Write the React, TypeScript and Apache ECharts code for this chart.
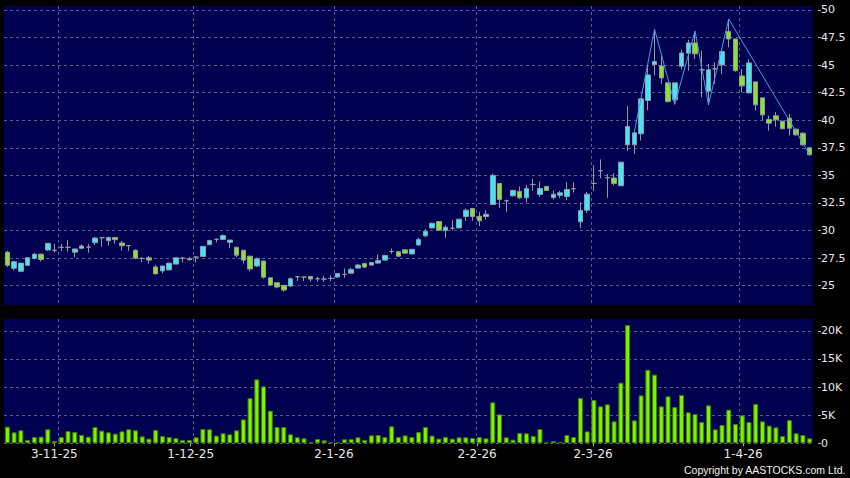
import React, { useEffect, useRef } from "react";
import * as echarts from "echarts";

// Trading days shown (d-m-yy)
const DATES: string[] = [
  "22-10-25", "23-10-25", "24-10-25", "27-10-25", "28-10-25", "30-10-25", "31-10-25",
  "3-11-25", "4-11-25", "5-11-25", "6-11-25", "7-11-25", "10-11-25", "11-11-25", "12-11-25", "13-11-25", "14-11-25",
  "17-11-25", "18-11-25", "19-11-25", "20-11-25", "21-11-25", "24-11-25", "25-11-25", "26-11-25", "27-11-25", "28-11-25",
  "1-12-25", "2-12-25", "3-12-25", "4-12-25", "5-12-25", "8-12-25", "9-12-25", "10-12-25", "11-12-25", "12-12-25",
  "15-12-25", "16-12-25", "17-12-25", "18-12-25", "19-12-25", "22-12-25", "23-12-25", "24-12-25", "29-12-25", "30-12-25", "31-12-25",
  "2-1-26", "5-1-26", "6-1-26", "7-1-26", "8-1-26", "9-1-26", "12-1-26", "13-1-26", "14-1-26", "15-1-26", "16-1-26",
  "19-1-26", "20-1-26", "21-1-26", "22-1-26", "23-1-26", "26-1-26", "27-1-26", "28-1-26", "29-1-26", "30-1-26",
  "2-2-26", "3-2-26", "4-2-26", "5-2-26", "6-2-26", "9-2-26", "10-2-26", "11-2-26", "12-2-26", "13-2-26",
  "16-2-26", "20-2-26", "23-2-26", "24-2-26", "25-2-26", "26-2-26", "27-2-26",
  "2-3-26", "3-3-26", "4-3-26", "5-3-26", "6-3-26", "9-3-26", "10-3-26", "11-3-26", "12-3-26", "13-3-26",
  "16-3-26", "17-3-26", "18-3-26", "19-3-26", "20-3-26", "23-3-26", "24-3-26", "25-3-26", "26-3-26", "27-3-26", "30-3-26", "31-3-26",
  "1-4-26", "2-4-26", "8-4-26", "9-4-26", "10-4-26", "13-4-26", "14-4-26", "15-4-26", "16-4-26", "17-4-26", "20-4-26", "21-4-26",
];

const OPEN: number[] = [
  28.04, 26.58, 26.31, 26.85, 27.47, 27.86, 28.24, 28.22, 28.48, 28.48,
  28.04, 28.39, 28.5, 28.9, 29.35, 29.08, 29.38, 28.87, 28.63, 28.21,
  27.47, 27.53, 26.7, 26.34, 26.43, 26.96, 27.5, 27.45, 27.6, 27.65,
  28.72, 29.2, 29.2, 28.93, 28.48, 28.21, 27.68, 26.79, 27.23, 25.71,
  25.27, 25.03, 24.97, 25.81, 25.78, 25.84, 25.63, 25.6, 25.66, 25.78,
  26.02, 26.14, 26.6, 27.02, 26.87, 27.05, 27.32, 28.1, 28.07, 28.25,
  27.88, 28.7, 29.52, 30.24, 30.82, 30.0, 30.21, 30.24, 31.27, 32.0,
  31.3, 31.27, 32.36, 34.27, 32.7, 33.15, 33.55, 32.97, 34.18, 33.27,
  34.0, 33.0, 33.2, 33.09, 33.79, 30.79, 31.85, 34.27, 35.42, 34.79,
  34.76, 34.06, 37.77, 37.77, 38.77, 41.79, 45.05, 44.93, 43.39, 41.85,
  44.9, 46.08, 47.01, 44.57, 42.63, 44.66, 45.02, 48.04, 47.37, 44.02,
  42.48, 43.48, 42.03, 40.07, 40.4, 39.92, 40.19, 39.19, 38.83, 37.5,
];
const CLOSE: number[] = [
  26.85, 27.17, 27.05, 27.53, 27.86, 27.38, 28.84, 28.2, 28.48, 28.48,
  28.33, 28.6, 28.5, 29.32, 29.35, 29.38, 29.17, 28.63, 28.63, 27.5,
  27.47, 27.32, 26.07, 26.79, 27.05, 27.53, 27.5, 27.35, 27.6, 28.57,
  29.1, 29.2, 29.55, 29.14, 27.77, 27.32, 26.52, 27.44, 25.77, 25.06,
  24.88, 24.61, 25.63, 25.81, 25.78, 25.6, 25.63, 25.6, 25.66, 26.11,
  26.02, 26.48, 26.87, 26.69, 27.11, 27.29, 27.74, 28.1, 27.68, 27.95,
  28.3, 29.18, 29.94, 30.67, 30.03, 30.3, 30.21, 31.03, 31.85, 31.27,
  30.88, 31.48, 35.0, 32.82, 32.7, 33.64, 32.97, 33.82, 34.18, 33.82,
  33.64, 33.3, 33.42, 33.73, 33.79, 31.82, 33.3, 34.27, 35.42, 34.79,
  34.27, 36.2, 39.43, 38.86, 41.94, 44.11, 45.32, 43.84, 41.7, 43.39,
  46.1, 47.01, 46.02, 44.57, 44.57, 44.66, 46.23, 47.37, 44.5, 43.12,
  45.2, 41.4, 40.49, 39.74, 40.04, 39.22, 39.28, 38.68, 37.77, 36.87,
];
const LOW: number[] = [
  26.7, 26.37, 26.22, 26.8, 27.38, 27.2, 28.15, 28.0, 28.15, 28.1,
  27.59, 28.3, 28.0, 28.69, 28.54, 28.63, 28.81, 28.18, 28.15, 27.4,
  27.14, 27.0, 26.07, 26.13, 26.43, 26.96, 27.11, 27.3, 27.1, 27.65,
  28.66, 28.93, 29.15, 28.39, 27.6, 27.02, 26.31, 26.7, 25.65, 25.0,
  24.76, 24.46, 24.9, 25.42, 25.42, 25.36, 25.36, 25.35, 25.42, 25.75,
  25.72, 26.1, 26.55, 26.6, 26.8, 27.0, 27.3, 27.89, 27.6, 27.9,
  27.85, 28.6, 29.4, 30.2, 29.95, 29.36, 30.03, 30.2, 30.88, 30.88,
  30.4, 31.0, 32.36, 32.06, 31.7, 33.1, 32.85, 32.55, 33.61, 33.03,
  33.6, 32.82, 32.95, 32.76, 33.45, 30.24, 31.6, 33.58, 34.73, 32.97,
  34.1, 34.06, 37.2, 36.96, 38.17, 40.9, 44.05, 43.3, 41.6, 41.43,
  44.6, 44.5, 45.55, 42.09, 41.4, 43.3, 44.2, 46.62, 44.4, 42.55,
  42.48, 40.9, 39.98, 39.07, 39.42, 39.22, 38.62, 38.6, 37.7, 36.8,
];
const HIGH: number[] = [
  28.15, 27.26, 27.05, 27.6, 27.98, 27.9, 28.84, 28.78, 28.78, 29.14,
  28.33, 28.75, 28.78, 29.43, 29.43, 29.38, 29.4, 29.05, 28.63, 28.3,
  27.59, 27.7, 26.88, 26.79, 27.05, 27.53, 27.59, 27.6, 27.65, 28.57,
  29.16, 29.29, 29.64, 29.14, 28.55, 28.21, 27.68, 27.56, 27.27, 25.75,
  25.3, 25.05, 25.73, 25.81, 25.8, 25.84, 25.81, 25.87, 25.93, 26.11,
  26.57, 26.63, 26.99, 27.05, 27.15, 27.83, 27.8, 28.37, 28.1, 28.3,
  28.3, 29.36, 30.12, 30.7, 30.85, 30.48, 30.94, 31.03, 32.0, 32.0,
  31.7, 31.85, 35.18, 34.27, 32.8, 33.7, 34.0, 34.15, 34.67, 34.45,
  34.05, 33.64, 33.6, 34.39, 34.36, 32.58, 33.5, 35.94, 36.45, 35.12,
  35.2, 36.2, 41.3, 38.9, 41.94, 45.0, 48.19, 45.86, 43.39, 43.39,
  46.4, 47.3, 47.9, 46.32, 45.1, 45.26, 46.5, 49.12, 47.37, 44.65,
  45.55, 43.48, 42.03, 40.43, 40.74, 39.95, 40.58, 39.25, 38.9, 37.55,
];
const VOLUME: number[] = [
  2960, 1950, 2310, 590, 1120, 1180, 2490, 410, 1120, 2190,
  2010, 1480, 1180, 2900, 2250, 1950, 1720, 2130, 2490, 2310,
  1240, 830, 2370, 1300, 1120, 950, 590, 590, 1070, 2550,
  2490, 1360, 1780, 1600, 2310, 4260, 8050, 11370, 10120, 5800,
  2900, 2900, 1600, 1070, 890, 180, 770, 530, 180, 180,
  710, 770, 1070, 590, 1420, 1480, 1120, 3020, 1120, 1420,
  1120, 2010, 2900, 1360, 830, 1120, 830, 1070, 1070, 950,
  1120, 890, 7280, 5150, 1070, 650, 1840, 1780, 1300, 2550,
  180, 410, 240, 1480, 1120, 8050, 2130, 7700, 6570, 6930,
  3910, 10770, 21020, 4080, 8520, 13080, 12200, 6570, 8350, 6450,
  8580, 5510, 5210, 3790, 6750, 2490, 3260, 5980, 3430, 4970,
  3790, 6990, 3910, 3140, 2840, 1300, 4140, 1780, 1480, 890,
];

// first trading day of each month: labelled on the axis
const MONTH_LABELS = ["3-11-25", "1-12-25", "2-1-26", "2-2-26", "2-3-26", "1-4-26"];
const PRICE_TICKS = [25, 27.5, 30, 32.5, 35, 37.5, 40, 42.5, 45, 47.5, 50];
const VOLUME_TICKS = [0, 5000, 10000, 15000, 20000];

// zig-zag pattern line
const PATTERN_DATES = ["11-3-26", "16-3-26", "19-3-26", "24-3-26", "26-3-26", "31-3-26", "21-4-26"];
const PATTERN_VALUES = [38.95, 48.25, 41.45, 48.1, 41.4, 49.18, 36.9];

const COPYRIGHT = "Copyright by AASTOCKS.com Ltd.";

const PANEL_BG = "#000050";
const GRID_LINE = "#5a5a8e";
const UP_FILL = "#3fe6fb";
const DOWN_FILL = "#84e62c";
const CANDLE_EDGE = "#9a9a9a";
const VOL_FILL = "#7cf400";
const VOL_EDGE = "#3f7d00";
const TEXT = "#e8e8e8";
const FONT = "DejaVu Sans";

export default function App() {
  const ref = useRef<HTMLDivElement>(null);

  useEffect(() => {
    document.body.style.margin = "0";
    document.body.style.background = "#000";
    const chart = echarts.init(ref.current!, undefined, { renderer: "svg" });

    const isMonthLabel = (v: string) => MONTH_LABELS.includes(v);

    const candleData = DATES.map((_, i) => [OPEN[i], CLOSE[i], LOW[i], HIGH[i]]);
    const patternData = PATTERN_DATES.map((d, k) => [d, PATTERN_VALUES[k]]);
    const monthStartData = MONTH_LABELS.map((d) => [d, 0]);

    // dashed vertical line at the right edge of each month's first trading day
    const monthLineSeries = (axisIndex: number) => ({
      type: "custom",
      xAxisIndex: axisIndex,
      yAxisIndex: axisIndex,
      data: monthStartData,
      z: 1,
      silent: true,
      renderItem: (params: any, api: any) => {
        const cs = params.coordSys;
        const center = api.coord([api.value(0), api.value(1)])[0];
        const band = api.size([1, 0])[0];
        const x = Math.round(center + band / 2) + 0.5;
        return {
          type: "line",
          shape: { x1: x, y1: cs.y, x2: x, y2: cs.y + cs.height },
          style: { stroke: GRID_LINE, lineWidth: 1, lineDash: [3, 3] },
        };
      },
    });

    const hiddenCatAxis = (gridIndex: number) => ({
      type: "category",
      gridIndex,
      data: DATES,
      boundaryGap: true,
      axisLine: { show: false },
      axisTick: { show: false },
      axisLabel: { show: false },
      splitLine: { show: false },
    });

    const option: any = {
      animation: false,
      backgroundColor: "#000",
      grid: [
        { left: 4, width: 809, top: 6, height: 299, show: true, backgroundColor: PANEL_BG, borderWidth: 0, outerBoundsMode: "none", containLabel: false },
        { left: 4, width: 809, top: 319, height: 124.3, show: true, backgroundColor: PANEL_BG, borderWidth: 0, outerBoundsMode: "none", containLabel: false },
        { left: 3.15, width: 818.4, top: 319, height: 124.3, show: false, outerBoundsMode: "none", containLabel: false },
      ],
      xAxis: [
        hiddenCatAxis(0),
        hiddenCatAxis(1),
        {
          type: "category",
          gridIndex: 2,
          data: DATES,
          boundaryGap: true,
          offset: 3,
          axisLine: { show: false },
          axisTick: {
            show: true,
            alignWithLabel: true,
            length: 3,
            interval: (idx: number, v: string) => isMonthLabel(v),
            lineStyle: { color: "#b0b0b0", width: 1 },
          },
          axisLabel: {
            show: true,
            interval: (idx: number, v: string) => isMonthLabel(v),
            margin: 2,
            color: TEXT,
            fontFamily: FONT,
            fontSize: 12,
          },
          splitLine: { show: false },
        },
      ],
      yAxis: [
        {
          type: "value",
          gridIndex: 0,
          position: "right",
          min: 23.25,
          max: 50.36,
          offset: 5,
          axisLine: { show: false },
          axisTick: { show: true, length: 3, customValues: PRICE_TICKS, lineStyle: { color: "#b0b0b0" } },
          axisLabel: {
            customValues: PRICE_TICKS,
            margin: 3,
            color: TEXT,
            fontFamily: FONT,
            fontSize: 11,
            formatter: (v: number) => String(v),
          },
          splitLine: { show: true, lineStyle: { color: GRID_LINE, type: [3, 3], width: 1 } },
        },
        {
          type: "value",
          gridIndex: 1,
          position: "right",
          min: 0,
          max: 22100,
          offset: 5,
          axisLine: { show: false },
          axisTick: { show: true, length: 3, customValues: VOLUME_TICKS, lineStyle: { color: "#b0b0b0" } },
          axisLabel: {
            customValues: VOLUME_TICKS,
            margin: 3,
            color: TEXT,
            fontFamily: FONT,
            fontSize: 11,
            formatter: (v: number) => (v === 0 ? "0" : v / 1000 + "K"),
          },
          splitLine: { show: true, lineStyle: { color: GRID_LINE, type: [3, 3], width: 1 } },
        },
        { type: "value", gridIndex: 2, show: false },
      ],
      series: [
        monthLineSeries(0),
        monthLineSeries(1),
        {
          type: "candlestick",
          xAxisIndex: 0,
          yAxisIndex: 0,
          data: candleData,
          barWidth: 5,
          itemStyle: {
            color: UP_FILL,
            color0: DOWN_FILL,
            borderColor: CANDLE_EDGE,
            borderColor0: CANDLE_EDGE,
            borderColorDoji: CANDLE_EDGE,
            borderWidth: 1,
          },
        },
        {
          type: "line",
          xAxisIndex: 0,
          yAxisIndex: 0,
          data: patternData,
          symbol: "none",
          lineStyle: { color: "#4a9ae6", width: 1 },
          z: 5,
        },
        {
          type: "bar",
          xAxisIndex: 1,
          yAxisIndex: 1,
          data: VOLUME,
          barWidth: 5,
          itemStyle: { color: VOL_FILL, borderColor: VOL_EDGE, borderWidth: 1 },
        },
      ],
      graphic: [
        {
          type: "text",
          right: 4,
          top: 464,
          style: {
            text: COPYRIGHT,
            fill: "#f0f0f0",
            font: '10.5px "Liberation Sans"',
          },
        },
      ],
    };

    chart.setOption(option);
    return () => chart.dispose();
  }, []);

  return (
    <div
      ref={ref}
      style={{ position: "fixed", left: 0, top: 0, width: 850, height: 478, background: "#000" }}
    />
  );
}
